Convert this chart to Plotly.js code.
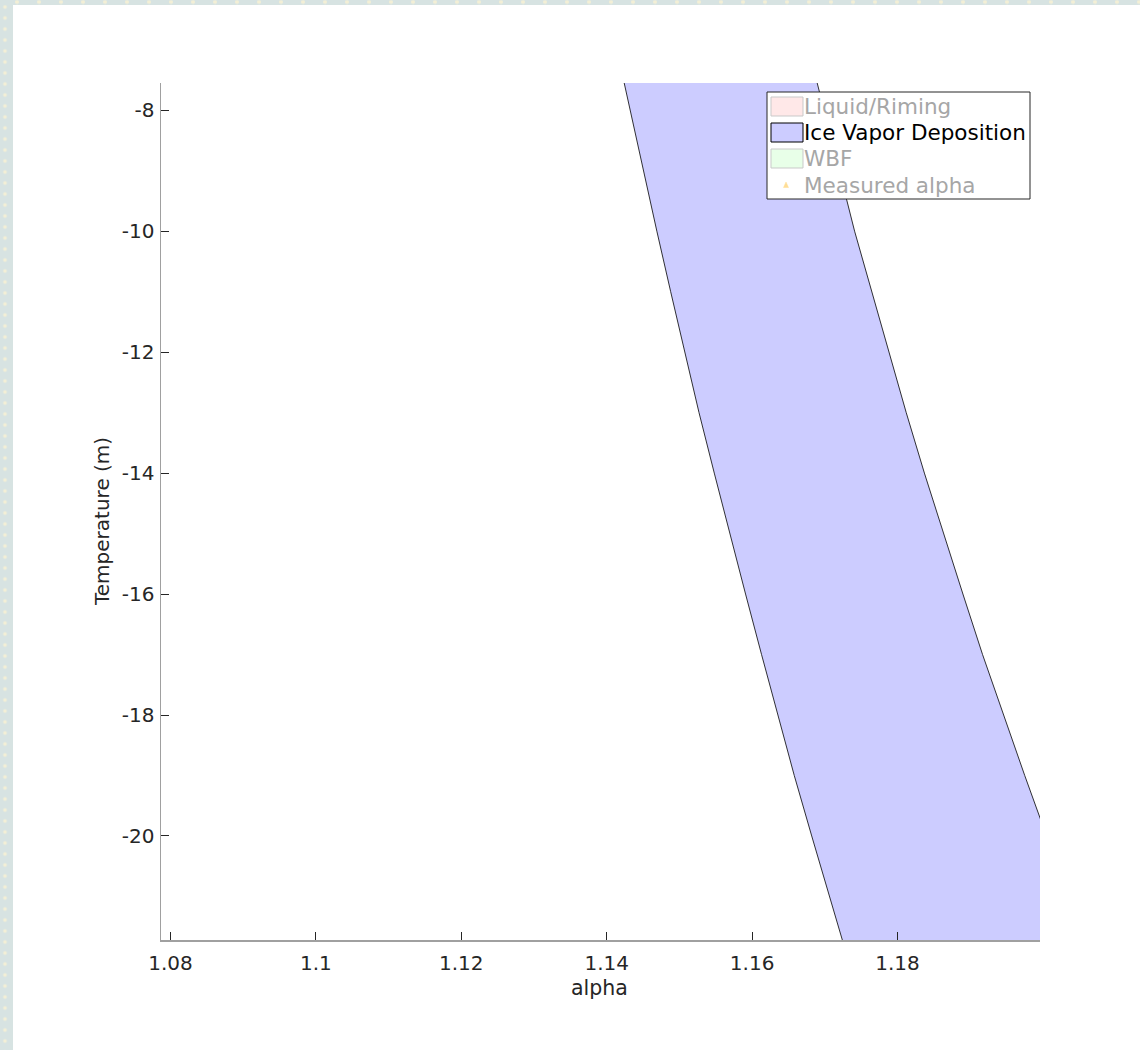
<!DOCTYPE html>
<html>
<head>
<meta charset="utf-8">
<script src="https://cdn.plot.ly/plotly-3.0.1.min.js"></script>
<style>
  html, body { margin: 0; padding: 0; background: #ffffff; }
  #chart { position: absolute; left: 0; top: 0; width: 1140px; height: 1050px; }
  .strip { position: absolute; z-index: 10; pointer-events: none; background-color: #d7e3e2; }
  #leftStrip { left: 0; top: 0; width: 13px; height: 1050px;
    background-image: radial-gradient(circle at center, #f3efd6 0 1.6px, rgba(243,239,214,0) 2.2px);
    background-size: 13px 11px; background-position: -1.5px 1.5px; }
  #topStrip { left: 0; top: 0; width: 1140px; height: 5px;
    background-image: radial-gradient(circle at center, #f3efd6 0 1.6px, rgba(243,239,214,0) 2.2px);
    background-size: 22px 5px; background-position: 6px -0.5px; }
</style>
</head>
<body>
<div id="chart"></div>
<div id="leftStrip" class="strip"></div>
<div id="topStrip" class="strip"></div>
<script>
// ---- data ----
var temperature = [-7, -8, -9, -10, -11, -12, -13, -14, -15, -16, -17, -18, -19, -20, -21, -22];
var alphaLow    = [1.1414, 1.1432, 1.1450, 1.1469, 1.1488, 1.1507, 1.1527, 1.1548, 1.1569, 1.1591, 1.1613, 1.1635, 1.1658, 1.1682, 1.1706, 1.1731];
var alphaHigh   = [1.1678, 1.1699, 1.1720, 1.1741, 1.1764, 1.1788, 1.1812, 1.1837, 1.1863, 1.1890, 1.1917, 1.1946, 1.1975, 1.2005, 1.2036, 1.2068];

var legendLabels = ["Liquid/Riming", "Ice Vapor Deposition", "WBF", "Measured alpha"];
var legendActive = [false, true, false, false];

var xTickVals = [1.08, 1.1, 1.12, 1.14, 1.16, 1.18];
var xTickText = ["1.08", "1.1", "1.12", "1.14", "1.16", "1.18"];
var yTickVals = [-8, -10, -12, -14, -16, -18, -20];
var yTickText = ["-8", "-10", "-12", "-14", "-16", "-18", "-20"];

var xTitle = "alpha";
var yTitle = "Temperature (m)";

// ---- polygon from the band edges ----
var polyX = alphaLow.concat(alphaHigh.slice().reverse());
var polyY = temperature.concat(temperature.slice().reverse());

var traces = [{
  type: 'scatter', mode: 'lines',
  x: polyX.concat([polyX[0]]), y: polyY.concat([polyY[0]]),
  fill: 'toself', fillcolor: 'rgb(204,204,255)',
  line: { color: '#000000', width: 0.8 },
  hoverinfo: 'skip', showlegend: false
}];

// ---- layout geometry (pixels) ----
var W = 1140, H = 1050;
var L = 161, R = 1040, T = 83, B = 940;
function px(x) { return (x - L) / (R - L); }
function py(y) { return (B - y) / (B - T); }

var shapes = [];
var annotations = [];

// legend box
shapes.push({ type: 'rect', xref: 'paper', yref: 'paper',
  x0: px(767), x1: px(1030), y0: py(199), y1: py(92),
  fillcolor: '#ffffff', line: { color: '#262626', width: 1 }, layer: 'above' });

var iconFill = ['rgb(255,232,232)', 'rgb(204,204,255)', 'rgb(232,255,232)'];
var iconLine = ['#c9c9c9', '#000000', '#c9c9c9'];
var rowY = [106.5, 132.5, 158.5, 185];
for (var i = 0; i < legendLabels.length; i++) {
  if (i < 3) {
    shapes.push({ type: 'rect', xref: 'paper', yref: 'paper',
      x0: px(771), x1: px(803), y0: py(rowY[i] + 9.5), y1: py(rowY[i] - 9.5),
      fillcolor: iconFill[i], line: { color: iconLine[i], width: 1 }, layer: 'above' });
  } else {
    shapes.push({ type: 'path', xref: 'paper', yref: 'paper',
      path: 'M ' + px(783.5) + ' ' + py(rowY[i] + 2.5) + ' L ' + px(788.5) + ' ' + py(rowY[i] + 2.5) +
            ' L ' + px(786) + ' ' + py(rowY[i] - 3) + ' Z',
      fillcolor: 'rgb(255,222,150)', line: { color: 'rgb(255,222,150)', width: 0.5 }, layer: 'above' });
  }
  annotations.push({ xref: 'paper', yref: 'paper', x: px(801.5), y: py(rowY[i]),
    xanchor: 'left', yanchor: 'middle', showarrow: false, text: legendLabels[i],
    font: { family: 'DejaVu Sans', size: 21.5, color: legendActive[i] ? '#000000' : '#a6a6a6' } });
}

// axis titles
annotations.push({ xref: 'paper', yref: 'paper', x: px(599), y: py(988),
  xanchor: 'center', yanchor: 'middle', showarrow: false, text: xTitle,
  font: { family: 'DejaVu Sans', size: 20.5, color: '#262626' } });
annotations.push({ xref: 'paper', yref: 'paper', x: px(102), y: py(522),
  xanchor: 'center', yanchor: 'middle', showarrow: false, text: yTitle, textangle: -90,
  font: { family: 'DejaVu Sans', size: 20, color: '#262626' } });

var layout = {
  width: W, height: H,
  margin: { l: L, r: W - R, t: T, b: H - B, pad: 0 },
  paper_bgcolor: '#ffffff', plot_bgcolor: '#ffffff',
  showlegend: false,
  font: { family: 'DejaVu Sans', size: 20, color: '#262626' },
  xaxis: {
    range: [1.0787, 1.1996], tickvals: xTickVals, ticktext: xTickText,
    ticks: 'inside', ticklen: 8, tickwidth: 1, tickcolor: '#262626',
    showline: true, linecolor: '#a0a0a0', linewidth: 1.5, mirror: false,
    showgrid: false, zeroline: false, ticklabelstandoff: 4,
    tickfont: { family: 'DejaVu Sans', size: 20, color: '#262626' }
  },
  yaxis: {
    range: [-21.72, -7.55], tickvals: yTickVals, ticktext: yTickText,
    ticks: 'inside', ticklen: 8, tickwidth: 1, tickcolor: '#262626',
    showline: true, linecolor: '#a0a0a0', linewidth: 1.5, mirror: false,
    showgrid: false, zeroline: false, ticklabelstandoff: 1,
    tickfont: { family: 'DejaVu Sans', size: 20, color: '#262626' }
  },
  shapes: shapes,
  annotations: annotations
};

Plotly.newPlot('chart', traces, layout, { displayModeBar: false, staticPlot: true });
</script>
</body>
</html>
